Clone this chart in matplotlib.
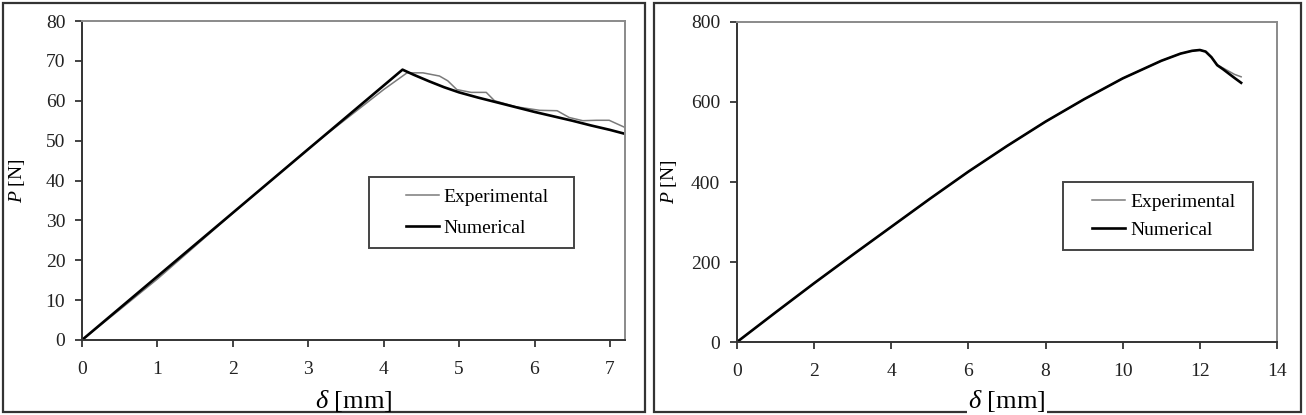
import matplotlib
matplotlib.use("Agg")
import matplotlib.pyplot as plt
from matplotlib.patches import Rectangle

plt.rcParams['font.family'] = ['Liberation Serif', 'DejaVu Serif']
plt.rcParams['mathtext.fontset'] = 'custom'
plt.rcParams['mathtext.rm'] = 'Liberation Serif'
plt.rcParams['mathtext.it'] = 'Liberation Serif:italic'

# ---- Left panel data ----
left_num_x = [0, 4.25, 4.4, 4.6, 4.8, 5.0, 5.25, 5.5, 5.75, 6.0, 6.25, 6.5, 6.75, 7.0, 7.2]
left_num_p = [0, 67.8, 66.5, 64.9, 63.4, 62.1, 60.8, 59.6, 58.4, 57.2, 56.1, 55.0, 53.8, 52.7, 51.7]
left_exp_x = [0, 0.5, 1.0, 2.0, 3.0, 4.0, 4.31, 4.52, 4.74, 4.85, 4.97, 5.16, 5.36,
              5.47, 5.75, 6.07, 6.3, 6.46, 6.64, 6.82, 6.99, 7.2]
left_exp_p = [0, 7.6, 15.3, 31.8, 48.0, 62.8, 67.0, 67.0, 66.2, 65.0, 62.8, 62.1, 62.1,
              60.0, 58.5, 57.6, 57.5, 55.8, 55.0, 55.1, 55.1, 53.3]
left_xticks = [0, 1, 2, 3, 4, 5, 6, 7]
left_yticks = [0, 10, 20, 30, 40, 50, 60, 70, 80]

# ---- Right panel data ----
right_num_x = [0, 1, 2, 3, 4, 5, 6, 7, 8, 9, 10, 10.5, 11, 11.5, 11.8, 12.0, 12.15,
               12.3, 12.45, 12.6, 12.75, 12.9, 13.07]
right_num_p = [0, 74, 147, 218, 288, 358, 426, 490, 551, 607, 659, 681, 703, 721, 728, 730, 726,
               712, 692, 682, 671, 660, 648]
right_exp_x = [0, 1, 2, 3, 4, 5, 6, 7, 8, 9, 10, 10.5, 11, 11.5, 11.8, 12.0, 12.15,
               12.3, 12.45, 12.6, 12.75, 12.9, 13.07]
right_exp_p = [0, 74, 147, 218, 288, 358, 426, 490, 551, 607, 659, 681, 703, 721, 728, 730, 726,
               712, 693, 685, 677, 669, 663]
right_xticks = [0, 2, 4, 6, 8, 10, 12, 14]
right_yticks = [0, 200, 400, 600, 800]

W, H = 1306, 415
fig = plt.figure(figsize=(W / 100, H / 100), dpi=100)
fig.patch.set_facecolor('white')


def px_axes(l, r, t, b):
    return fig.add_axes([l / W, 1 - b / H, (r - l) / W, (b - t) / H])


def style(ax, xticks, yticks, xlim, ylim):
    ax.set_xlim(*xlim)
    ax.set_ylim(*ylim)
    ax.set_xticks(xticks)
    ax.set_yticks(yticks)
    ax.tick_params(axis='both', direction='out', length=5, width=1.2,
                   labelsize=14, colors='#222222')
    ax.tick_params(axis='x', pad=10)
    ax.tick_params(axis='y', pad=7)
    for s in ['left', 'bottom']:
        ax.spines[s].set_color('#333333')
        ax.spines[s].set_linewidth(1.4)
    for s in ['top', 'right']:
        ax.spines[s].set_color('#8a8a8a')
        ax.spines[s].set_linewidth(1.4)


def legend_box(ax, x0, x1, y0, y1, spacing):
    ax.add_patch(Rectangle((x0, y0), x1 - x0, y1 - y0, transform=ax.transAxes,
                           fill=False, edgecolor='#444444', linewidth=1.4, zorder=5))
    leg = ax.legend(loc='center', bbox_to_anchor=((x0 + x1) / 2 + 0.01, (y0 + y1) / 2),
                    frameon=False, fontsize=14, handlelength=1.7,
                    handletextpad=0.25, labelspacing=spacing)
    leg.set_zorder(6)


# Left panel
ax1 = px_axes(82, 625, 21, 340)
ax1.plot(left_exp_x, left_exp_p, color='#7a7a7a', lw=1.1, label='Experimental')
ax1.plot(left_num_x, left_num_p, color='black', lw=1.9, label='Numerical')
style(ax1, left_xticks, left_yticks, (0, 7.2), (0, 80))
ax1.set_xlabel(r'$\delta$ [mm]', fontsize=19)
ax1.xaxis.set_label_coords(0.5, -0.15)
ax1.set_ylabel(r'$P$ [N]', fontsize=14)
ax1.yaxis.set_label_coords(-0.102, 0.5)
legend_box(ax1, 0.529, 0.906, 0.288, 0.511, 0.7)

# Right panel
ax2 = px_axes(737, 1277, 22, 342)
ax2.plot(right_exp_x, right_exp_p, color='#7a7a7a', lw=1.1, label='Experimental')
ax2.plot(right_num_x, right_num_p, color='black', lw=1.9, label='Numerical')
style(ax2, right_xticks, right_yticks, (0, 14), (0, 800))
ax2.set_xlabel(r'$\delta$ [mm]', fontsize=19,
               bbox=dict(facecolor='white', edgecolor='none', pad=1))
ax2.xaxis.set_label_coords(0.5, -0.145)
ax2.set_ylabel(r'$P$ [N]', fontsize=14)
ax2.yaxis.set_label_coords(-0.108, 0.5)
legend_box(ax2, 0.604, 0.956, 0.2875, 0.5, 0.55)

# Outer panel frames
for (l, r) in [(3, 645), (654, 1301)]:
    fig.patches.append(Rectangle((l / W, 1 - 412 / H), (r - l) / W, (412 - 3) / H,
                                 transform=fig.transFigure, fill=False,
                                 edgecolor='#333333', linewidth=1.6, zorder=-1))

fig.savefig('out.png', dpi=100, facecolor='white')
